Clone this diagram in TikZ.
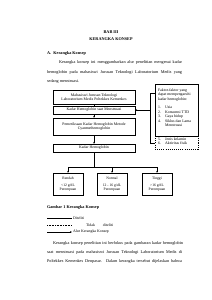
\documentclass[tikz,border=0pt]{standalone}
\usepackage{fontspec}
\setmainfont{Liberation Serif}
\usetikzlibrary{arrows.meta}
\begin{document}
\begin{tikzpicture}[x=1mm,y=-1mm,
  body/.style={anchor=base west, inner sep=0pt, font=\fontsize{12}{14}\selectfont},
  box/.style={draw, line width=1pt, font=\fontsize{11}{12.5}\selectfont, align=center, inner sep=1pt, minimum width=82mm},
  sbox/.style={draw, line width=1pt, font=\fontsize{10.5}{12}\selectfont, align=center, inner sep=1pt, minimum width=30mm, minimum height=22mm},
  arr/.style={-{Stealth[length=2mm,width=1.6mm]}, line width=1pt},
  ln/.style={line width=1pt}]
\useasboundingbox (0,0) rectangle (212,300);
\fill[white] (0,0) rectangle (212,300);
% headings
\node[anchor=base, inner sep=0pt, font=\fontsize{12}{14}\selectfont\bfseries] (bab) at (111,33.5) {BAB III};
\node[anchor=base, inner sep=0pt, font=\fontsize{12}{14}\selectfont\bfseries] (judul) at (111,40.5) {KERANGKA KONSEP};
\node[body, font=\fontsize{12}{14}\selectfont\bfseries] (sub) at (47,54.5) {A.\hspace{2.2mm}Kerangka Konsep};
% paragraph 1
\node[body] (p1a) at (59,63.5) {\makebox[123mm][s]{Kerangka konsep ini menggambarkan alur penelitian mengenai kadar}};
\node[body] (p1b) at (47,73) {\makebox[135mm][s]{hemoglobin pada mahasiswi Jurusan Teknologi Laboratorium Medis yang}};
\node[body] (p1c) at (47,82.5) {sedang menstruasi.};
% left column boxes
\node[box, minimum height=14mm] (b1) at (94,97) {Mahasiswi Jurusan Teknologi\\Laboratorium Medis Poltekkes Kemenkes};
\node[box, minimum height=8mm] (b2) at (94,110) {Kadar Hemoglobin saat Menstruasi};
\node[box, minimum height=17mm] (b3) at (94,126.5) {Pemeriksaan Kadar Hemoglobin Metode\\Cyanmethemoglobin};
\node[box, minimum height=8mm] (b4) at (94,148) {Kadar Hemoglobin};
\draw[ln] (b1) -- (b2);
\draw[arr] (b2) -- (b3);
\draw[arr] (b3) -- (b4);
% result boxes
\node[sbox] (r1) at (68,184) {Rendah\\[2.5mm]<12 g/dL\\Perempuan};
\node[sbox] (r2) at (112,184) {Normal\\[2.5mm]12 - 16 g/dL\\Perempuan};
\node[sbox] (r3) at (157,184) {Tinggi\\[2.5mm]>16 g/dL\\Perempuan};
\coordinate (tj) at (94,167);
\draw[ln] (b4.south) -- (tj);
\draw[ln] (r1.north |- tj) -- (r3.north |- tj);
\draw[arr] (r1.north |- tj) -- (r1.north);
\draw[arr] (r2.north |- tj) -- (r2.north);
\draw[arr] (r3.north |- tj) -- (r3.north);
% factor box
\node[draw, line width=1pt, minimum width=43mm, minimum height=52mm, inner sep=0pt] (fac) at (176.5,110) {};
\node[draw, dashed, line width=1pt, minimum width=43mm, minimum height=13mm, inner sep=0pt] (fac2) at (176.5,142.5) {};
\node[anchor=north west, inner sep=0pt, align=left, font=\fontsize{11}{12.5}\selectfont] (ft) at (158,88.5)
  {Faktor-faktor yang\\dapat mempengaruhi\\kadar hemoglobin:\\[4.5mm]
   \makebox[7mm][l]{1.}Usia\\
   \makebox[7mm][l]{2.}Konsumsi TTD\\
   \makebox[7mm][l]{3.}Gaya hidup\\
   \makebox[7mm][l]{4.}Siklus dan Lama\\
   \hspace*{7mm}Menstruasi};
\node[anchor=north west, inner sep=0pt, align=left, font=\fontsize{11}{12.5}\selectfont] (ft2) at (158,137.5)
  {\makebox[7mm][l]{5.}Jenis kelamin\\
   \makebox[7mm][l]{6.}Aktivitas fisik};
\coordinate (bt) at (150,93);
\coordinate (bb) at (150,143);
\draw[ln] (fac.west |- bt) -- (bt) -- (bb) -- (fac2.west |- bb);
\draw[arr] (bt |- b2) -- (b2.east);
% caption and legend
\node[body, font=\fontsize{12}{14}\selectfont\bfseries] (cap) at (47,208.5) {Gambar 1 Kerangka Konsep};
\coordinate (l1a) at (47,218); \coordinate (l1b) at (72,218);
\coordinate (l2a) at (47,225); \coordinate (l2b) at (72,225);
\coordinate (l3a) at (47,232); \coordinate (l3b) at (72,232);
\draw[ln] (l1a) -- (l1b);
\draw[ln, dashed, dash pattern=on 1mm off 0.6mm] (l2a) -- (l2b);
\draw[arr] (l3a) -- (l3b);
\node[anchor=west, inner sep=0pt, font=\fontsize{11}{13}\selectfont] (lg1) at (73,218) {Diteliti};
\node[anchor=west, inner sep=0pt, font=\fontsize{11}{13}\selectfont] (lg2) at (86,225) {\makebox[27mm][s]{Tidak diteliti}};
\node[anchor=west, inner sep=0pt, font=\fontsize{11}{13}\selectfont] (lg3) at (73,232) {Alur Kerangka Konsep};
% paragraph 2
\node[body] (p2a) at (53,244.5) {\makebox[130mm][s]{Kerangka konsep penelitian ini berfokus pada gambaran kadar hemoglobin}};
\node[body] (p2b) at (47,253.5) {\makebox[135mm][s]{saat menstruasi pada mahasiswi Jurusan Teknologi Laboratorium Medis di}};
\node[body] (p2c) at (47,262.5) {\makebox[135mm][s]{Poltekkes Kemenkes Denpasar. Dalam kerangka tersebut dijelaskan bahwa}};
\end{tikzpicture}
\end{document}
